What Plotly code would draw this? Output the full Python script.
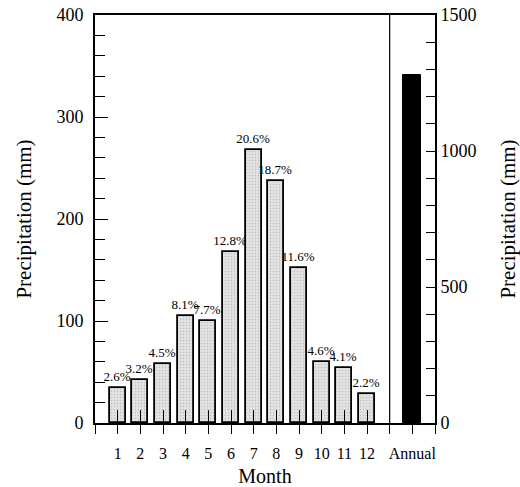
import plotly.graph_objects as go

months = [1, 2, 3, 4, 5, 6, 7, 8, 9, 10, 11, 12]
month_labels = ["1", "2", "3", "4", "5", "6", "7", "8", "9", "10", "11", "12"]
monthly_precip = [34, 42, 58, 105, 100, 168, 268, 237, 152, 60, 54, 28]
monthly_pct = ["2.6%", "3.2%", "4.5%", "8.1%", "7.7%", "12.8%", "20.6%", "18.7%",
               "11.6%", "4.6%", "4.1%", "2.2%"]
annual_pos = [14]
annual_label = ["Annual"]
annual_precip = [1280]

FONT = "Liberation Serif, Times New Roman, serif"

fig = go.Figure()

fig.add_trace(go.Bar(
    x=months, y=monthly_precip, width=0.7,
    text=monthly_pct, textposition="outside", cliponaxis=False,
    constraintext="none", textangle=0,
    textfont=dict(family=FONT, size=13, color="black"),
    marker=dict(color="#dcdcdc", line=dict(color="black", width=1.8),
                pattern=dict(shape=".", fgcolor="#9a9a9a", bgcolor="#e2e2e2",
                             size=3, solidity=0.2)),
    xaxis="x", yaxis="y", showlegend=False, hoverinfo="skip",
))

fig.add_trace(go.Bar(
    x=annual_pos, y=annual_precip, width=0.8,
    marker=dict(color="black", line=dict(color="black", width=1)),
    xaxis="x", yaxis="y2", showlegend=False, hoverinfo="skip",
))

# invisible trace so the overlay axis (outside ticks) is drawn
fig.add_trace(go.Scatter(x=[1], y=[0], mode="markers", marker=dict(opacity=0),
                         xaxis="x2", yaxis="y", showlegend=False, hoverinfo="skip"))

fig.add_vline(x=13, line=dict(color="black", width=1.2))

fig.update_layout(
    width=520, height=487,
    margin=dict(l=95, r=85, t=15, b=64, autoexpand=False),
    paper_bgcolor="white", plot_bgcolor="white",
    font=dict(family=FONT, color="black"),
    bargap=0,
    xaxis=dict(
        range=[0, 15], tickmode="array", tickvals=months + annual_pos,
        ticktext=month_labels + annual_label,
        ticks="inside", ticklen=13, tickwidth=1.3, tickcolor="black",
        showline=True, linecolor="black", linewidth=2, mirror=True,
        showgrid=False, zeroline=False, automargin=False,
        ticklabelstandoff=15, ticklabeloverflow="allow",
        tickfont=dict(family=FONT, size=16, color="black"),
        title=dict(text="Month", font=dict(family=FONT, size=20, color="black"), standoff=13),
    ),
    xaxis2=dict(
        range=[0, 15], overlaying="x", anchor="y", side="bottom",
        tickmode="array", tickvals=list(range(0, 16)),
        ticks="outside", ticklen=10, tickwidth=1.3, tickcolor="black",
        showline=False, showgrid=False, zeroline=False, showticklabels=False,
        automargin=False,
    ),
    yaxis=dict(
        range=[0, 400], dtick=100, ticks="inside", ticklen=13, tickwidth=1.3,
        tickcolor="black", showline=True, linecolor="black", linewidth=2,
        showgrid=False, zeroline=False, automargin=False, ticklabeloverflow="allow",
        minor=dict(dtick=20, ticks="inside", ticklen=10, tickwidth=1.2, tickcolor="black"),
        tickfont=dict(family=FONT, size=18, color="black"), ticklabelstandoff=6,
        title=dict(text="Precipitation (mm)", font=dict(family=FONT, size=21, color="black"),
                   standoff=19),
    ),
    yaxis2=dict(
        range=[0, 1500], dtick=500, overlaying="y", side="right", anchor="x",
        ticks="inside", ticklen=9, tickwidth=1.3, tickcolor="black",
        showline=True, linecolor="black", linewidth=2,
        showgrid=False, zeroline=False, automargin=False, ticklabeloverflow="allow",
        minor=dict(dtick=100, ticks="inside", ticklen=9, tickwidth=1.2, tickcolor="black"),
        tickfont=dict(family=FONT, size=18, color="black"), ticklabelstandoff=0,
        title=dict(text="Precipitation (mm)", font=dict(family=FONT, size=21, color="black"),
                   standoff=26),
    ),
)

# remove the browser's default 8px page margin so the figure fills the window
fig.write_html("out.html", config={"displayModeBar": False},
               post_script="document.body.style.margin='0';")
